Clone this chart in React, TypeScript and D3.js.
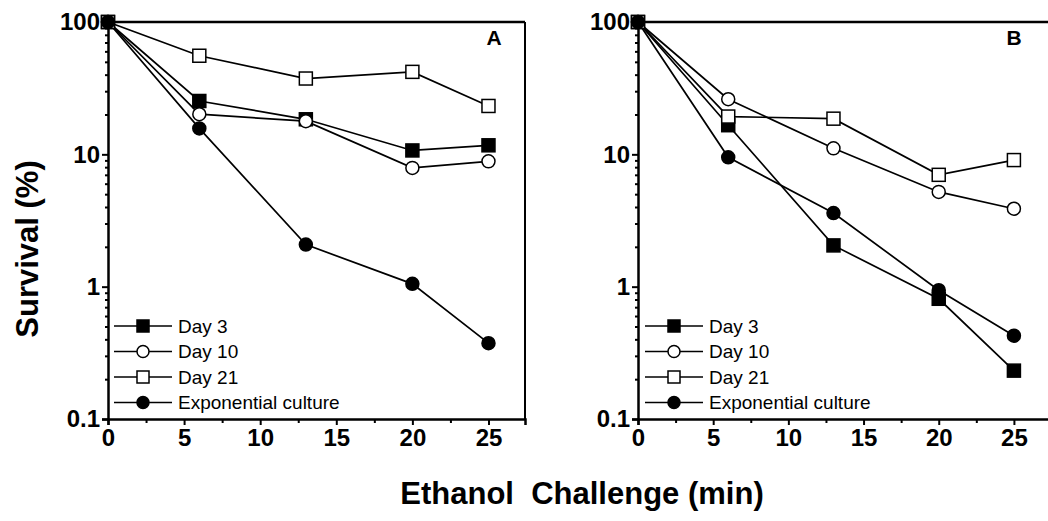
import * as d3 from 'd3';
import { useEffect, useRef } from 'react';

// x values (minutes of ethanol challenge)
const times = [0, 6, 13, 20, 25];
const seriesNames = ['Day 3', 'Day 10', 'Day 21', 'Exponential culture'];
const xTickValues = [0, 5, 10, 15, 20, 25];
const yTickValues = [0.1, 1, 10, 100];
const yTickLabels = ['0.1', '1', '10', '100'];

// panel A survival (%)
const aDay3 = [100, 25.3, 18.4, 10.7, 11.7];
const aDay10 = [100, 20.1, 17.8, 7.9, 8.85];
const aDay21 = [100, 55.6, 37.4, 42, 23.2];
const aExp = [100, 15.7, 2.08, 1.05, 0.374];

// panel B survival (%)
const bDay3 = [100, 16.6, 2.05, 0.81, 0.232];
const bDay10 = [100, 26.1, 11.1, 5.2, 3.88];
const bDay21 = [100, 19.3, 18.6, 7.0, 9.05];
const bExp = [100, 9.5, 3.6, 0.94, 0.426];

const FONT = "'Liberation Sans', Arial, Helvetica, sans-serif";

// marker styles: filled square, open circle, open square, filled circle
const markerKind = ['square', 'circle', 'square', 'circle'];
const markerFill = ['#000', '#fff', '#fff', '#000'];

function drawMarker(g: any, kind: string, fill: string, cx: number, cy: number, size: number) {
    if (kind === 'square') {
        g.append('rect')
            .attr('x', cx - size / 2)
            .attr('y', cy - size / 2)
            .attr('width', size)
            .attr('height', size)
            .attr('fill', fill)
            .attr('stroke', '#000')
            .attr('stroke-width', 1.5);
    } else {
        g.append('circle')
            .attr('cx', cx)
            .attr('cy', cy)
            .attr('r', size / 2)
            .attr('fill', fill)
            .attr('stroke', '#000')
            .attr('stroke-width', 1.5);
    }
}

function drawPanel(svg: any, opts: { left: number; right: number; label: string; labelX: number; series: number[][]; legendX: number }) {
    const top = 22;
    const bottom = 419;

    const x = d3.scaleLinear().domain([0, 27.4]).range([opts.left, opts.right]);
    const y = d3.scaleLog().domain([0.1, 100]).range([bottom, top]);

    const g = svg.append('g');

    // frame: top and right borders
    g.append('line')
        .attr('x1', opts.left).attr('x2', opts.right)
        .attr('y1', top).attr('y2', top)
        .attr('stroke', '#000').attr('stroke-width', 2.5);
    g.append('line')
        .attr('x1', opts.right).attr('x2', opts.right)
        .attr('y1', top).attr('y2', bottom)
        .attr('stroke', '#000').attr('stroke-width', 2);

    // bottom axis
    const xAxis = g.append('g')
        .attr('transform', `translate(0, ${bottom})`)
        .call(d3.axisBottom(x).tickValues(xTickValues).tickSize(6).tickPadding(4).tickFormat(d3.format('d')));
    xAxis.select('.domain').attr('stroke-width', 2.5);
    xAxis.selectAll('.tick line').attr('stroke-width', 2);
    xAxis.selectAll('.tick text')
        .attr('font-family', FONT)
        .attr('font-weight', 'bold')
        .attr('font-size', '24px')
        .attr('fill', '#000');

    // minor x ticks
    g.append('g')
        .attr('transform', `translate(0, ${bottom})`)
        .call(d3.axisBottom(x).tickValues([2.5, 7.5, 12.5, 17.5, 22.5]).tickSize(4).tickFormat(() => ''))
        .call((s: any) => s.select('.domain').remove())
        .selectAll('.tick line').attr('stroke-width', 2);

    // left axis
    const yAxis = g.append('g')
        .attr('transform', `translate(${opts.left}, 0)`)
        .call(d3.axisLeft(y).tickValues(yTickValues).tickSize(6).tickPadding(2)
            .tickFormat((d: any, i: number) => yTickLabels[i]));
    yAxis.select('.domain').attr('stroke-width', 2.5);
    yAxis.selectAll('.tick line').attr('stroke-width', 2);
    yAxis.selectAll('.tick text')
        .attr('font-family', FONT)
        .attr('font-weight', 'bold')
        .attr('font-size', '24px')
        .attr('fill', '#000');

    // minor log ticks
    const minor: number[] = [];
    [0.1, 1, 10].forEach(dec => {
        for (let k = 2; k <= 9; k++) minor.push(dec * k);
    });
    g.append('g')
        .attr('transform', `translate(${opts.left}, 0)`)
        .call(d3.axisLeft(y).tickValues(minor).tickSize(3).tickFormat(() => ''))
        .call((s: any) => s.select('.domain').remove())
        .selectAll('.tick line').attr('stroke-width', 2);

    // panel letter
    g.append('text')
        .attr('x', opts.labelX)
        .attr('y', 45)
        .attr('text-anchor', 'middle')
        .attr('font-family', FONT)
        .attr('font-weight', 'bold')
        .attr('font-size', '21px')
        .text(opts.label);

    const line = d3.line<number>()
        .x((d, i) => x(times[i]))
        .y(d => y(d));

    // lines first
    opts.series.forEach(vals => {
        g.append('path')
            .datum(vals)
            .attr('d', line)
            .attr('fill', 'none')
            .attr('stroke', '#000')
            .attr('stroke-width', 1.7);
    });

    // markers
    opts.series.forEach((vals, si) => {
        vals.forEach((v, i) => {
            drawMarker(g, markerKind[si], markerFill[si], x(times[i]), y(v), 13);
        });
    });

    // legend
    const legendRows = [326, 351.5, 377, 402.5];
    seriesNames.forEach((name, si) => {
        const ly = legendRows[si];
        g.append('line')
            .attr('x1', opts.legendX).attr('x2', opts.legendX + 58)
            .attr('y1', ly).attr('y2', ly)
            .attr('stroke', '#000').attr('stroke-width', 1.7);
        drawMarker(g, markerKind[si], markerFill[si], opts.legendX + 29, ly, 12);
        g.append('text')
            .attr('x', opts.legendX + 64)
            .attr('y', ly)
            .attr('dy', '0.35em')
            .attr('font-family', FONT)
            .attr('font-size', '19px')
            .text(name);
    });
}

function SurvivalChart() {
    const svgRef = useRef<SVGSVGElement | null>(null);

    useEffect(() => {
        if (!svgRef.current) return;
        const svg = d3.select(svgRef.current);
        svg.selectAll('*').remove();

        svg.append('rect').attr('width', 1048).attr('height', 521).attr('fill', '#fff');

        drawPanel(svg, {
            left: 108, right: 525, label: 'A', labelX: 494,
            series: [aDay3, aDay10, aDay21, aExp], legendX: 114,
        });
        drawPanel(svg, {
            left: 638, right: 1050, label: 'B', labelX: 1014,
            series: [bDay3, bDay10, bDay21, bExp], legendX: 645,
        });

        // axis titles
        svg.append('text')
            .attr('x', 582)
            .attr('y', 504)
            .attr('text-anchor', 'middle')
            .attr('font-family', FONT)
            .attr('font-weight', 'bold')
            .attr('font-size', '31px')
            .style('white-space', 'pre')
            .text('Ethanol  Challenge (min)');

        svg.append('text')
            .attr('transform', 'translate(38, 249) rotate(-90)')
            .attr('text-anchor', 'middle')
            .attr('font-family', FONT)
            .attr('font-weight', 'bold')
            .attr('font-size', '31px')
            .text('Survival (%)');

        return () => {
            d3.select(svgRef.current).selectAll('*').remove();
        };
    }, []);

    return (
        <svg
            ref={svgRef}
            width={1048}
            height={521}
            style={{ position: 'absolute', left: 0, top: 0, display: 'block' }}
        />
    );
}

export default function App() {
    return <SurvivalChart />;
}
